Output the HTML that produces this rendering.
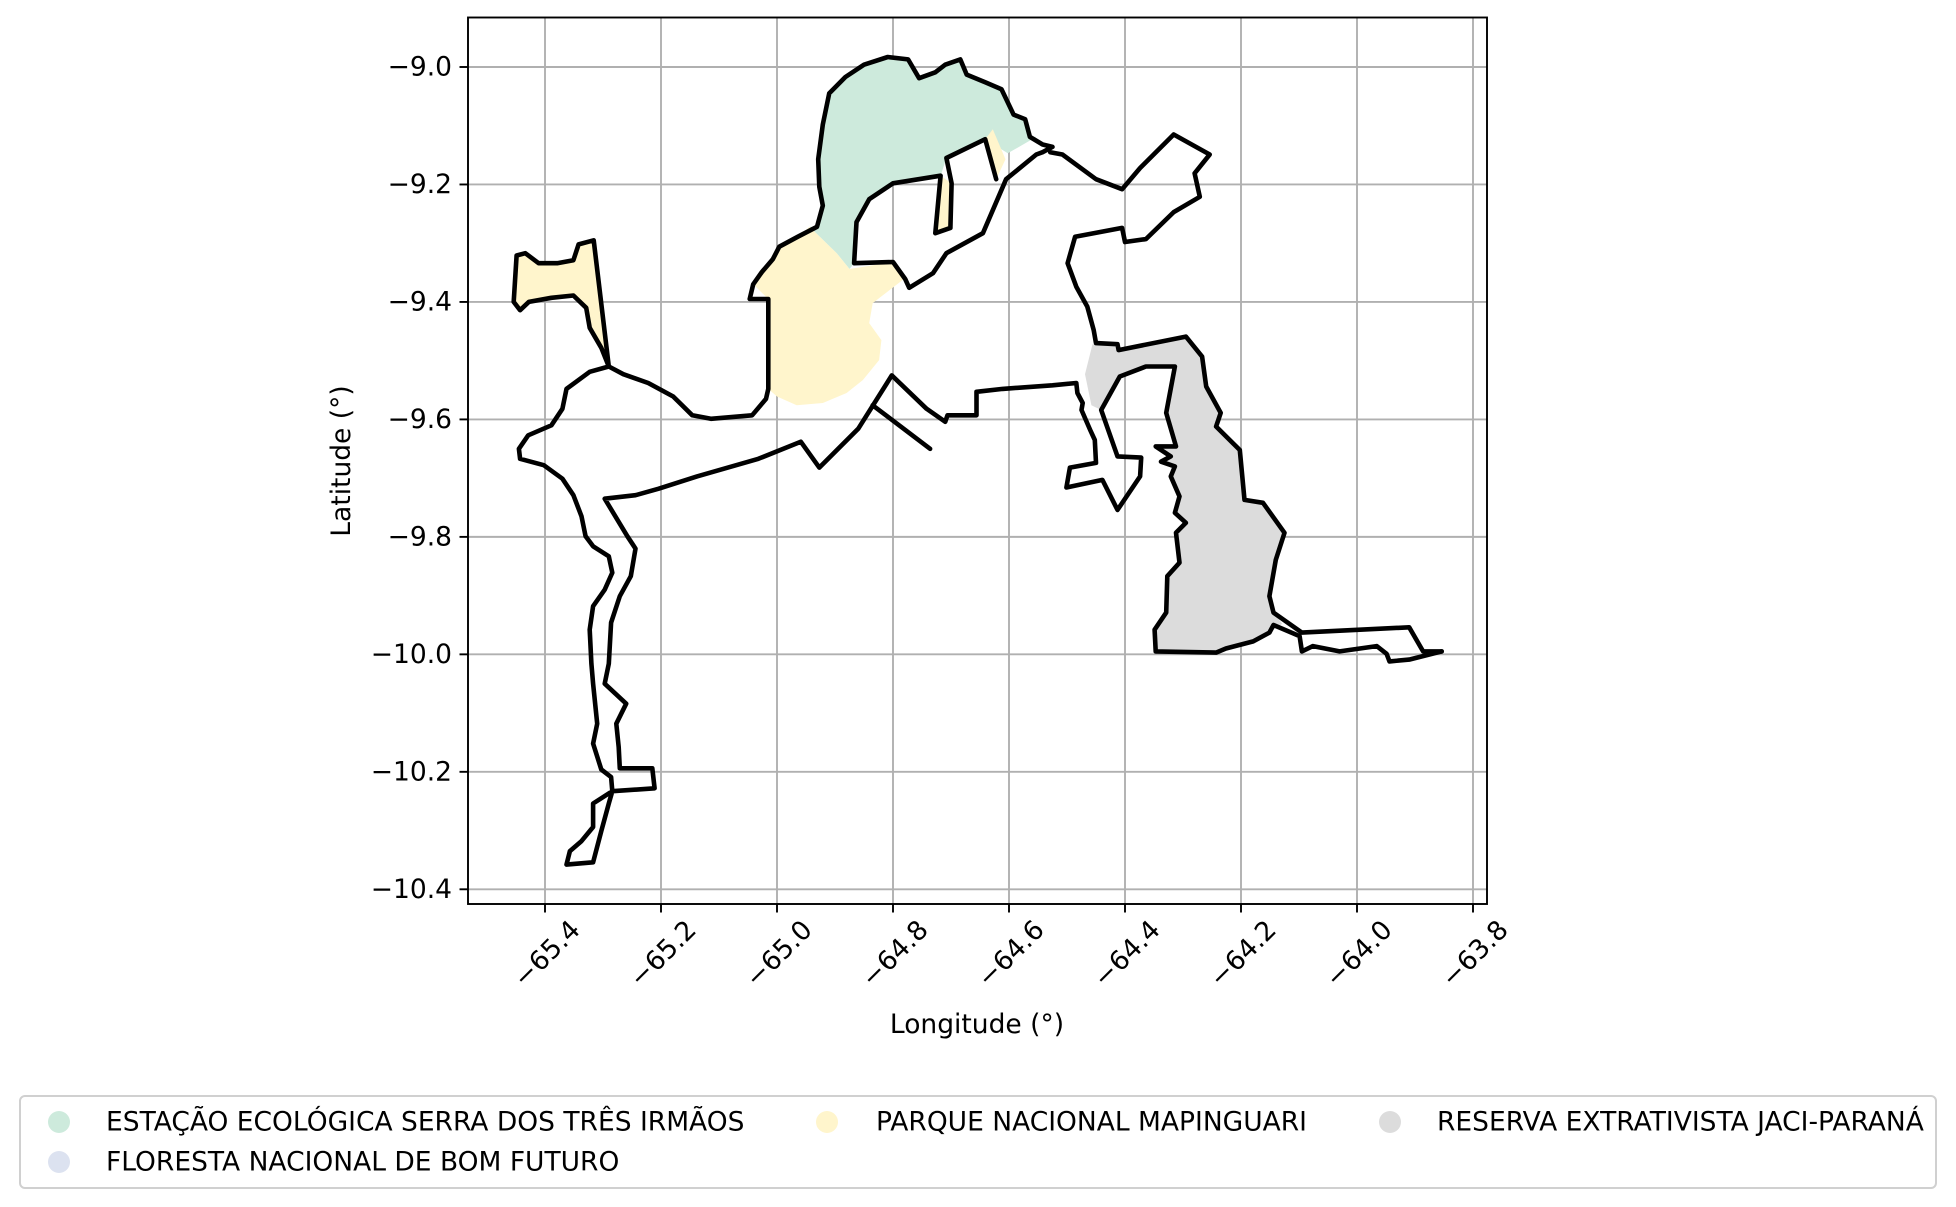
<!DOCTYPE html>
<html><head><meta charset="utf-8"><style>
html,body{margin:0;padding:0;background:#fff;}
svg{display:block;font-family:"DejaVu Sans","Liberation Sans",sans-serif;}
</style></head><body>
<svg id="chart" width="1956" height="1207" viewBox="0 0 1956 1207" xmlns="http://www.w3.org/2000/svg">
<rect x="0" y="0" width="1956" height="1207" fill="#fff"/>
<g id="grid"></g>
<g id="fills"></g>
<g id="outlines"></g>
<rect x="468" y="17.5" width="1019" height="886.5" fill="none" stroke="#000" stroke-width="1.9"/>
<g id="ticks"></g>
<text x="977" y="1033" font-size="26.5" text-anchor="middle">Longitude (°)</text>
<text x="0" y="0" font-size="26.5" text-anchor="middle" transform="translate(350,461) rotate(-90)">Latitude (°)</text>
<g id="legend">
<rect x="20" y="1096" width="1916" height="92" rx="5" fill="#fff" stroke="#d0d0d0" stroke-width="2"/>
</g>
</svg>
<script>
const xTicks = [-65.4, -65.2, -65.0, -64.8, -64.6, -64.4, -64.2, -64.0, -63.8];
const xTickLabels = ["−65.4","−65.2","−65.0","−64.8","−64.6","−64.4","−64.2","−64.0","−63.8"];
const yTicks = [-9.0, -9.2, -9.4, -9.6, -9.8, -10.0, -10.2, -10.4];
const yTickLabels = ["−9.0","−9.2","−9.4","−9.6","−9.8","−10.0","−10.2","−10.4"];
const legendLabels = ["ESTAÇÃO ECOLÓGICA SERRA DOS TRÊS IRMÃOS","FLORESTA NACIONAL DE BOM FUTURO","PARQUE NACIONAL MAPINGUARI","RESERVA EXTRATIVISTA JACI-PARANÁ"];
const legendColors = ["#cdeadc","#dce2f0","#fff5cc","#dcdcdc"];

const greenArea = [[-64.921,-9.236],[-64.927,-9.204],[-64.929,-9.157],[-64.921,-9.098],[-64.910,-9.045],[-64.882,-9.017],[-64.850,-8.996],[-64.809,-8.983],[-64.774,-8.987],[-64.755,-9.019],[-64.727,-9.009],[-64.710,-8.996],[-64.684,-8.987],[-64.673,-9.013],[-64.641,-9.026],[-64.613,-9.038],[-64.592,-9.081],[-64.572,-9.089],[-64.564,-9.119],[-64.553,-9.119],[-64.602,-9.147],[-64.641,-9.123],[-64.708,-9.155],[-64.718,-9.185],[-64.800,-9.198],[-64.841,-9.225],[-64.863,-9.264],[-64.867,-9.334],[-64.875,-9.344],[-64.897,-9.317],[-64.944,-9.272],[-64.931,-9.272]];
const yellowWest = [[-65.454,-9.400],[-65.449,-9.321],[-65.434,-9.317],[-65.411,-9.334],[-65.379,-9.334],[-65.351,-9.329],[-65.342,-9.302],[-65.316,-9.295],[-65.290,-9.510],[-65.303,-9.478],[-65.323,-9.444],[-65.329,-9.410],[-65.351,-9.389],[-65.389,-9.393],[-65.428,-9.400],[-65.443,-9.414]];
const yellowMain = [[-65.015,-9.395],[-65.041,-9.370],[-65.026,-9.349],[-65.007,-9.327],[-64.996,-9.306],[-64.964,-9.289],[-64.944,-9.272],[-64.897,-9.317],[-64.875,-9.344],[-64.800,-9.332],[-64.781,-9.361],[-64.835,-9.402],[-64.841,-9.436],[-64.820,-9.465],[-64.824,-9.499],[-64.852,-9.533],[-64.880,-9.555],[-64.921,-9.572],[-64.966,-9.576],[-65.000,-9.561],[-65.015,-9.548]];
const yellowStrip = [[-64.718,-9.185],[-64.699,-9.198],[-64.701,-9.274],[-64.727,-9.283]];
const yellowDiag = [[-64.641,-9.123],[-64.628,-9.106],[-64.606,-9.157],[-64.622,-9.191]];
const grayArea = [[-64.456,-9.472],[-64.413,-9.472],[-64.411,-9.482],[-64.295,-9.459],[-64.267,-9.493],[-64.260,-9.544],[-64.235,-9.589],[-64.243,-9.612],[-64.202,-9.652],[-64.194,-9.737],[-64.162,-9.742],[-64.125,-9.793],[-64.140,-9.839],[-64.151,-9.901],[-64.144,-9.929],[-64.129,-9.948],[-64.151,-9.963],[-64.179,-9.978],[-64.226,-9.990],[-64.243,-9.997],[-64.347,-9.995],[-64.349,-9.958],[-64.329,-9.929],[-64.327,-9.867],[-64.306,-9.844],[-64.312,-9.793],[-64.295,-9.776],[-64.314,-9.759],[-64.306,-9.731],[-64.321,-9.697],[-64.314,-9.680],[-64.338,-9.672],[-64.321,-9.663],[-64.347,-9.646],[-64.312,-9.646],[-64.329,-9.589],[-64.314,-9.510],[-64.364,-9.510],[-64.409,-9.527],[-64.441,-9.584],[-64.458,-9.576],[-64.469,-9.523]];

const westArm = [[-65.454,-9.400],[-65.449,-9.321],[-65.434,-9.317],[-65.411,-9.334],[-65.379,-9.334],[-65.351,-9.329],[-65.342,-9.302],[-65.316,-9.295],[-65.290,-9.510],[-65.303,-9.478],[-65.323,-9.444],[-65.329,-9.410],[-65.351,-9.389],[-65.389,-9.393],[-65.428,-9.400],[-65.443,-9.414],[-65.454,-9.400]];
const southLine = [[-65.290,-9.510],[-65.323,-9.519],[-65.363,-9.548],[-65.370,-9.582],[-65.389,-9.610],[-65.429,-9.627],[-65.445,-9.650],[-65.443,-9.667],[-65.402,-9.678],[-65.370,-9.701],[-65.351,-9.729],[-65.337,-9.765],[-65.330,-9.799],[-65.317,-9.816],[-65.290,-9.833],[-65.284,-9.861],[-65.297,-9.890],[-65.317,-9.918],[-65.323,-9.958],[-65.320,-10.016],[-65.317,-10.050],[-65.310,-10.118],[-65.317,-10.152],[-65.303,-10.196],[-65.286,-10.209],[-65.284,-10.233],[-65.317,-10.254],[-65.317,-10.294],[-65.337,-10.318],[-65.357,-10.335],[-65.363,-10.358],[-65.317,-10.354],[-65.303,-10.301],[-65.290,-10.254],[-65.284,-10.233],[-65.211,-10.228],[-65.215,-10.194],[-65.271,-10.194],[-65.273,-10.158],[-65.277,-10.118],[-65.260,-10.084],[-65.297,-10.050],[-65.290,-10.016],[-65.286,-9.946],[-65.271,-9.901],[-65.252,-9.867],[-65.244,-9.820],[-65.258,-9.799],[-65.297,-9.735],[-65.244,-9.729],[-65.204,-9.718],[-65.138,-9.697],[-65.032,-9.667],[-64.959,-9.638],[-64.927,-9.682],[-64.860,-9.616],[-64.802,-9.525],[-64.742,-9.582],[-64.710,-9.604],[-64.706,-9.593],[-64.656,-9.593],[-64.656,-9.553],[-64.611,-9.548],[-64.525,-9.542],[-64.484,-9.538],[-64.482,-9.555],[-64.473,-9.572],[-64.475,-9.584],[-64.460,-9.618],[-64.452,-9.635],[-64.450,-9.674],[-64.495,-9.682],[-64.501,-9.716],[-64.439,-9.703],[-64.413,-9.754],[-64.374,-9.697],[-64.372,-9.665],[-64.413,-9.663],[-64.441,-9.584],[-64.409,-9.527],[-64.364,-9.510],[-64.314,-9.510],[-64.329,-9.589],[-64.312,-9.646],[-64.347,-9.646],[-64.321,-9.663],[-64.338,-9.672],[-64.314,-9.680],[-64.321,-9.697],[-64.306,-9.731],[-64.314,-9.759],[-64.295,-9.776],[-64.312,-9.793],[-64.306,-9.844],[-64.327,-9.867],[-64.329,-9.929],[-64.349,-9.958],[-64.347,-9.995],[-64.243,-9.997],[-64.226,-9.990],[-64.179,-9.978],[-64.151,-9.963],[-64.144,-9.950],[-64.099,-9.969],[-64.095,-9.995],[-64.076,-9.986],[-64.030,-9.995],[-63.966,-9.986],[-63.949,-9.999],[-63.944,-10.012],[-63.910,-10.009],[-63.854,-9.995]];
const shortLine = [[-64.835,-9.576],[-64.736,-9.650]];
const northLine = [[-65.290,-9.510],[-65.265,-9.523],[-65.222,-9.538],[-65.179,-9.561],[-65.146,-9.593],[-65.114,-9.599],[-65.043,-9.593],[-65.019,-9.565],[-65.015,-9.548],[-65.015,-9.395],[-65.047,-9.395],[-65.041,-9.370],[-65.026,-9.349],[-65.007,-9.327],[-64.996,-9.306],[-64.964,-9.289],[-64.931,-9.272],[-64.921,-9.236],[-64.927,-9.204],[-64.929,-9.157],[-64.921,-9.098],[-64.910,-9.045],[-64.882,-9.017],[-64.850,-8.996],[-64.809,-8.983],[-64.774,-8.987],[-64.755,-9.019],[-64.727,-9.009],[-64.710,-8.996],[-64.684,-8.987],[-64.673,-9.013],[-64.641,-9.026],[-64.613,-9.038],[-64.592,-9.081],[-64.572,-9.089],[-64.564,-9.119],[-64.542,-9.132],[-64.525,-9.136],[-64.542,-9.145],[-64.553,-9.149],[-64.605,-9.191],[-64.645,-9.283],[-64.708,-9.317],[-64.731,-9.351],[-64.772,-9.376],[-64.779,-9.361],[-64.800,-9.332],[-64.867,-9.334],[-64.863,-9.264],[-64.841,-9.225],[-64.800,-9.198],[-64.718,-9.185],[-64.727,-9.283],[-64.701,-9.274],[-64.699,-9.198],[-64.708,-9.155],[-64.641,-9.123],[-64.622,-9.191]];
const eastLine = [[-64.529,-9.145],[-64.508,-9.149],[-64.450,-9.191],[-64.405,-9.208],[-64.374,-9.172],[-64.316,-9.115],[-64.254,-9.149],[-64.280,-9.181],[-64.271,-9.221],[-64.316,-9.247],[-64.364,-9.293],[-64.400,-9.298],[-64.405,-9.274],[-64.486,-9.289],[-64.499,-9.334],[-64.484,-9.374],[-64.465,-9.408],[-64.454,-9.448],[-64.450,-9.470],[-64.413,-9.472],[-64.411,-9.482],[-64.295,-9.459],[-64.267,-9.493],[-64.260,-9.544],[-64.235,-9.589],[-64.243,-9.612],[-64.202,-9.652],[-64.194,-9.737],[-64.162,-9.742],[-64.125,-9.793],[-64.140,-9.839],[-64.151,-9.901],[-64.144,-9.929],[-64.095,-9.963],[-63.910,-9.954],[-63.886,-9.995],[-63.854,-9.995]];

const NS = "http://www.w3.org/2000/svg";
function xScale(lon){ return 545 + (lon + 65.4) / 0.2 * 116; }
function yScale(lat){ return 67 + (-9.0 - lat) / 0.2 * 117.47; }
function mk(tag, attrs, parent){ const e = document.createElementNS(NS, tag); for (const k in attrs) e.setAttribute(k, attrs[k]); parent.appendChild(e); return e; }
function pts(arr){ return arr.map(p => xScale(p[0]).toFixed(1) + "," + yScale(p[1]).toFixed(1)).join(" "); }

const grid = document.getElementById("grid");
const ticks = document.getElementById("ticks");
xTicks.forEach((v, i) => {
  const x = xScale(v);
  const gl = mk("line", {x1:x, x2:x, y1:17.5, y2:904, stroke:"#b0b0b0", "stroke-width":1.9}, grid);
  
  
  const tk = mk("line", {x1:x, x2:x, y1:904, y2:912.5, stroke:"#000", "stroke-width":1.9}, ticks);
  
  
  const t = mk("text", {x:0, y:0, "font-size":26.5, "text-anchor":"middle", "dominant-baseline":"central", transform:"translate(" + (x + 2) + ",954) rotate(-45)"}, ticks);
  t.textContent = xTickLabels[i];
  
  
});
yTicks.forEach((v, i) => {
  const y = yScale(v);
  const gl = mk("line", {x1:468, x2:1487, y1:y, y2:y, stroke:"#b0b0b0", "stroke-width":1.9}, grid);
  
  
  const tk = mk("line", {x1:459.5, x2:468, y1:y, y2:y, stroke:"#000", "stroke-width":1.9}, ticks);
  
  
  const t = mk("text", {x:452, y:y, "font-size":26.5, "text-anchor":"end", "dominant-baseline":"central"}, ticks);
  t.textContent = yTickLabels[i];
  
  
});

const fills = document.getElementById("fills");
const fillSets = [[greenArea, legendColors[0], "esec-fill"],[yellowWest, legendColors[2], "parna-west-fill"],[yellowMain, legendColors[2], "parna-main-fill"],[yellowStrip, legendColors[2], "parna-strip-fill"],[yellowDiag, legendColors[2], "parna-diag-fill"],[grayArea, legendColors[3], "resex-fill"]];
fillSets.forEach(f => {
  const p = mk("polygon", {points: pts(f[0]), fill: f[1], stroke: "none"}, fills);
  
  
});

const outlines = document.getElementById("outlines");
const lineSets = [[westArm,"west-arm-outline"],[southLine,"south-outline"],[shortLine,"short-outline"],[northLine,"north-outline"],[eastLine,"east-outline"]];
lineSets.forEach(l => {
  const p = mk("polyline", {points: pts(l[0]), fill:"none", stroke:"#000", "stroke-width":4.6, "stroke-linejoin":"round", "stroke-linecap":"round"}, outlines);
  
  
});

const legend = document.getElementById("legend");
const legendPos = [[59,1122,106],[59,1162,106],[827,1122,876],[1390,1122,1437]];
legendLabels.forEach((lab, i) => {
  const c = mk("circle", {cx:legendPos[i][0], cy:legendPos[i][1], r:11, fill:legendColors[i]}, legend);
  
  
  const t = mk("text", {x:legendPos[i][2], y:legendPos[i][1], "font-size":26.5, "dominant-baseline":"central"}, legend);
  t.textContent = lab;
  
  
});
</script>
</body></html>
